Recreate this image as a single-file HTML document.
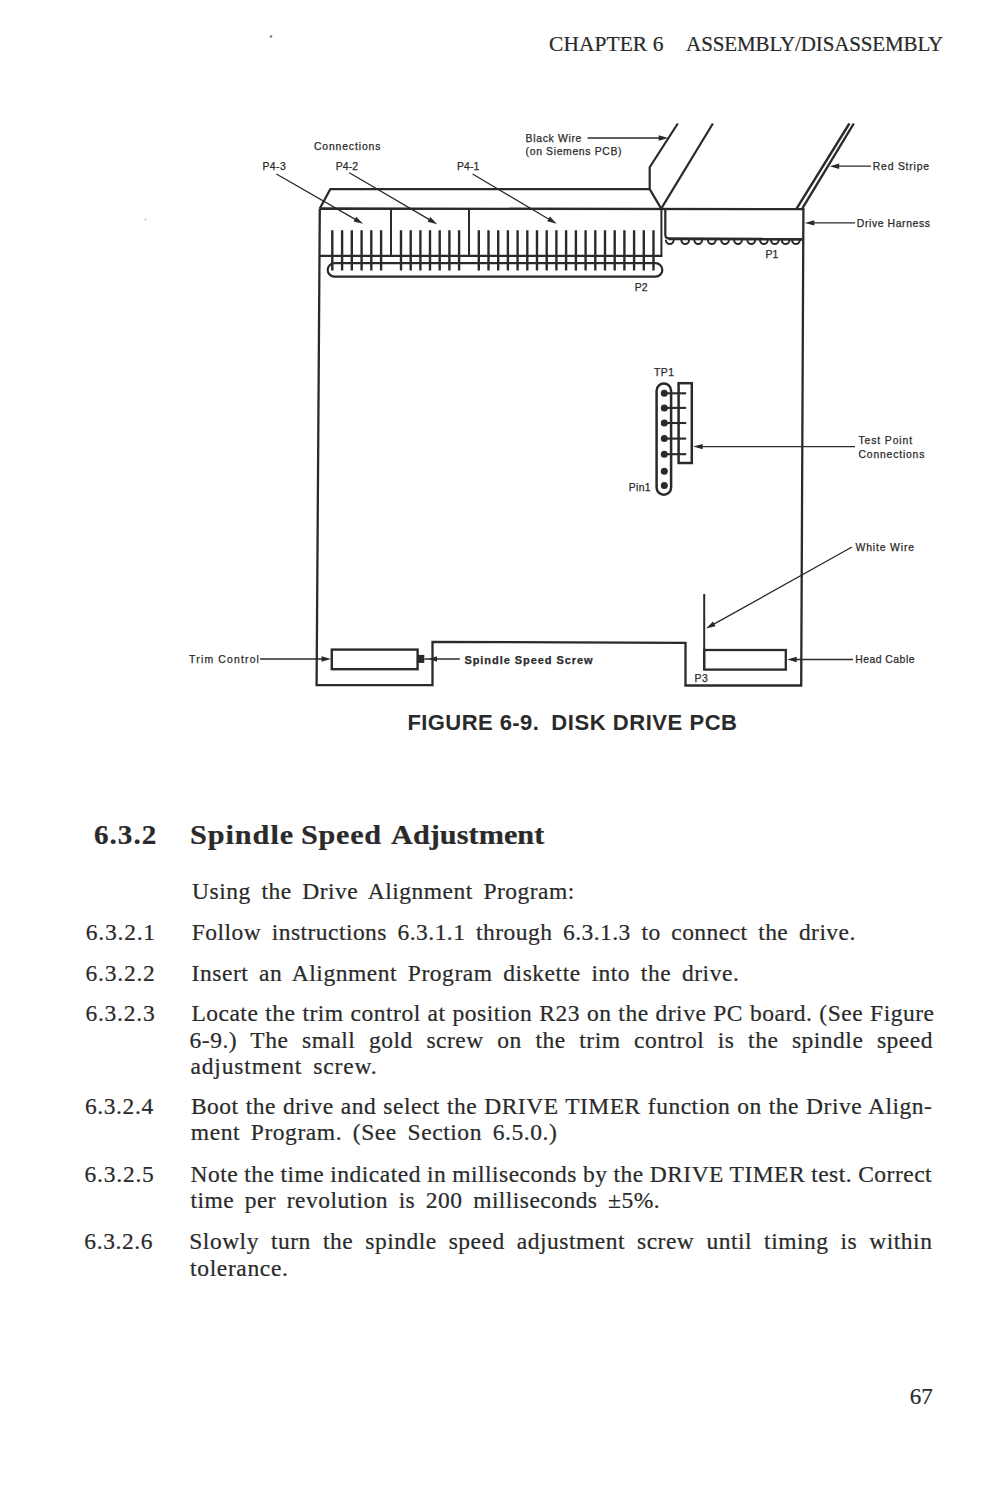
<!DOCTYPE html>
<html lang="en">
<head>
<meta charset="utf-8">
<title>Chapter 6 Assembly/Disassembly - page 67</title>
<style>
html,body{margin:0;padding:0;background:#fff;}
body{width:995px;height:1489px;position:relative;overflow:hidden;color:#2a2a2a;}
.t{position:absolute;white-space:pre;transform-origin:0 50%;color:#2a2a2a;}
.s{font-family:"Liberation Serif",serif;-webkit-text-stroke:0.22px #2a2a2a;}
.n{font-family:"Liberation Sans",sans-serif;}
.b{font-weight:bold;}
.l{-webkit-text-stroke:0.25px #2a2a2a;}
svg{position:absolute;left:0;top:0;}
</style>
</head>
<body>
<svg width="995" height="1489" viewBox="0 0 995 1489" fill="none" stroke="#2a2a2a">
<path d="M319.8,208.5 L316.6,685.1 L432.5,685.1 L432.5,641.8 L685.5,642.8 L685.5,685.5 L801.2,685.5 L803.4,209.2 L319.8,208.5" stroke-width="2.3" stroke-linejoin="miter"/>
<path d="M319.8,208.5 L330.3,189.2 L649.7,189.2 L661.2,208.6" stroke-width="2.2" />
<path d="M649.7,190 L649.7,167.2 L677.8,123.5" stroke-width="2.2" />
<path d="M661.2,208.6 L712.9,123.5" stroke-width="2.2" />
<line x1="319.3" y1="255.8" x2="662.2" y2="255.8" stroke-width="2.2"/>
<line x1="661.4" y1="208.5" x2="661.4" y2="256.9" stroke-width="2"/>
<line x1="391.0" y1="208.5" x2="391.0" y2="255.8" stroke-width="2"/>
<line x1="469.0" y1="208.5" x2="469.0" y2="255.8" stroke-width="2"/>
<path d="M332.3,230.3V270.5M342.1,230.3V270.5M351.8,230.3V270.5M361.6,230.3V270.5M371.3,230.3V270.5M381.1,230.3V270.5M401.0,230.3V270.5M410.7,230.3V270.5M420.4,230.3V270.5M430.0,230.3V270.5M439.7,230.3V270.5M449.4,230.3V270.5M459.1,230.3V270.5M478.8,230.3V270.5M488.5,230.3V270.5M498.2,230.3V270.5M507.9,230.3V270.5M517.6,230.3V270.5M527.3,230.3V270.5M537.0,230.3V270.5M546.7,230.3V270.5M556.4,230.3V270.5M566.1,230.3V270.5M575.9,230.3V270.5M585.6,230.3V270.5M595.3,230.3V270.5M605.0,230.3V270.5M614.7,230.3V270.5M624.4,230.3V270.5M634.1,230.3V270.5M643.8,230.3V270.5M653.5,230.3V270.5" stroke-width="2.4" />
<rect x="327.7" y="263.2" width="334.6" height="13.4" rx="6.7" ry="6.7" stroke-width="2.2"/>
<path d="M665.3,208.5 L665.3,234.5 Q665.3,238.6 669.5,238.6" stroke-width="2.2" />
<line x1="668.5" y1="238.8" x2="802.6" y2="239.3" stroke-width="2.9"/>
<path d="M665.9,239.8 a3.9,4.3 0 0 0 7.8,0M681.3,239.8 a3.9,4.3 0 0 0 7.8,0M694.3,239.8 a3.9,4.3 0 0 0 7.8,0M707.9,239.8 a3.9,4.3 0 0 0 7.8,0M721.1,239.8 a3.9,4.3 0 0 0 7.8,0M734.1,239.8 a3.9,4.3 0 0 0 7.8,0M747.4,239.8 a3.9,4.3 0 0 0 7.8,0M760.0,239.8 a3.9,4.3 0 0 0 7.8,0M770.9,239.8 a3.9,4.3 0 0 0 7.8,0M781.7,239.8 a3.9,4.3 0 0 0 7.8,0M792.0,239.8 a3.9,4.3 0 0 0 7.8,0" stroke-width="2" />
<line x1="796.6" y1="208.6" x2="849.4" y2="123.5" stroke-width="2.4"/>
<line x1="802.5" y1="208.2" x2="853.8" y2="123.5" stroke-width="2.4"/>
<rect x="656.6" y="383.4" width="14.5" height="111.4" rx="7.25" ry="7.25" stroke-width="2.5"/>
<rect x="678.6" y="383.2" width="13.2" height="79.8" stroke-width="2.5"/>
<circle cx="664.3" cy="393.3" r="3.5" fill="#2a2a2a" stroke="none"/>
<circle cx="664.3" cy="407.9" r="3.5" fill="#2a2a2a" stroke="none"/>
<circle cx="664.3" cy="423.0" r="3.5" fill="#2a2a2a" stroke="none"/>
<circle cx="664.3" cy="438.6" r="3.5" fill="#2a2a2a" stroke="none"/>
<circle cx="664.3" cy="454.2" r="3.5" fill="#2a2a2a" stroke="none"/>
<circle cx="664.3" cy="471.3" r="3.5" fill="#2a2a2a" stroke="none"/>
<circle cx="664.3" cy="485.4" r="3.5" fill="#2a2a2a" stroke="none"/>
<line x1="664.3" y1="393.3" x2="686.2" y2="393.3" stroke-width="2.1"/>
<line x1="664.3" y1="407.9" x2="686.2" y2="407.9" stroke-width="2.1"/>
<line x1="664.3" y1="423.0" x2="686.2" y2="423.0" stroke-width="2.1"/>
<line x1="664.3" y1="438.6" x2="686.2" y2="438.6" stroke-width="2.1"/>
<line x1="664.3" y1="454.2" x2="686.2" y2="454.2" stroke-width="2.1"/>
<line x1="704.2" y1="594.0" x2="704.2" y2="669.0" stroke-width="2"/>
<rect x="704.2" y="650.0" width="81.6" height="19.6" stroke-width="2.3"/>
<rect x="331.8" y="649.6" width="85.8" height="19.6" stroke-width="2.4"/>
<rect x="418" y="654.9" width="6.3" height="8" fill="#2a2a2a" stroke="none"/>
<circle cx="271" cy="36.5" r="1.3" fill="#777" stroke="none"/>
<circle cx="145.5" cy="219.5" r="0.9" fill="#bbb" stroke="none"/>
<line x1="276.4" y1="174.0" x2="356.6" y2="220.1" stroke-width="1.3"/>
<polygon points="363.1,223.8 353.5,221.4 356.2,216.7" fill="#2a2a2a" stroke="none"/>
<line x1="349.3" y1="172.8" x2="430.7" y2="220.4" stroke-width="1.3"/>
<polygon points="437.2,224.2 427.6,221.7 430.4,217.1" fill="#2a2a2a" stroke="none"/>
<line x1="472.6" y1="174.0" x2="550.2" y2="220.0" stroke-width="1.3"/>
<polygon points="556.7,223.8 547.1,221.3 549.9,216.6" fill="#2a2a2a" stroke="none"/>
<line x1="587.6" y1="138.0" x2="660.7" y2="138.0" stroke-width="1.3"/>
<polygon points="668.2,138.0 658.7,140.7 658.7,135.3" fill="#2a2a2a" stroke="none"/>
<line x1="871.0" y1="166.2" x2="837.2" y2="166.2" stroke-width="1.3"/>
<polygon points="829.7,166.2 839.2,163.5 839.2,168.9" fill="#2a2a2a" stroke="none"/>
<line x1="855.0" y1="222.9" x2="812.3" y2="222.9" stroke-width="1.3"/>
<polygon points="804.8,222.9 814.3,220.2 814.3,225.6" fill="#2a2a2a" stroke="none"/>
<line x1="855.0" y1="446.6" x2="700.7" y2="446.6" stroke-width="1.3"/>
<polygon points="693.2,446.6 702.7,443.9 702.7,449.3" fill="#2a2a2a" stroke="none"/>
<line x1="852.0" y1="547.0" x2="712.5" y2="624.9" stroke-width="1.3"/>
<polygon points="706.0,628.6 713.0,621.6 715.6,626.3" fill="#2a2a2a" stroke="none"/>
<line x1="853.0" y1="659.5" x2="794.7" y2="659.5" stroke-width="1.3"/>
<polygon points="787.2,659.5 796.7,656.8 796.7,662.2" fill="#2a2a2a" stroke="none"/>
<line x1="260.0" y1="659.0" x2="323.5" y2="659.0" stroke-width="1.3"/>
<polygon points="331.0,659.0 321.5,661.7 321.5,656.3" fill="#2a2a2a" stroke="none"/>
<line x1="424.5" y1="659.0" x2="459.8" y2="659.0" stroke-width="1.3"/>
<polygon points="428.5,659 437,656.2 437,661.8" fill="#2a2a2a" stroke="none"/>
</svg>
<div class="t s" style="left:549.3px;top:33.9px;font-size:21px;line-height:21px;letter-spacing:0.092px;transform:scaleX(1.02);">CHAPTER 6</div>
<div class="t s" style="left:686.1px;top:33.9px;font-size:21px;line-height:21px;letter-spacing:-0.124px;">ASSEMBLY/DISASSEMBLY</div>
<div class="t s b" style="left:94.0px;top:820.5px;font-size:28px;line-height:28px;letter-spacing:0.962px;transform:scaleX(1.04);">6.3.2</div>
<div class="t s b" style="left:189.8px;top:820.5px;font-size:28px;line-height:28px;letter-spacing:0.871px;transform:scaleX(1.08);">Spindle</div>
<div class="t s b" style="left:301.3px;top:820.5px;font-size:28px;line-height:28px;letter-spacing:0.653px;transform:scaleX(1.08);">Speed</div>
<div class="t s b" style="left:391.4px;top:820.5px;font-size:28px;line-height:28px;letter-spacing:0.040px;transform:scaleX(1.08);">Adjustment</div>
<div class="t s" style="left:192.1px;top:879.6px;font-size:23.5px;line-height:23.5px;letter-spacing:0.500px;word-spacing:4.300px;">Using the Drive Alignment Program:</div>
<div class="t s" style="left:85.8px;top:920.5px;font-size:23.5px;line-height:23.5px;letter-spacing:0.771px;">6.3.2.1</div>
<div class="t s" style="left:191.8px;top:920.5px;font-size:23.5px;line-height:23.5px;letter-spacing:0.458px;word-spacing:4.300px;">Follow instructions 6.3.1.1 through 6.3.1.3 to connect the drive.</div>
<div class="t s" style="left:85.6px;top:961.7px;font-size:23.5px;line-height:23.5px;letter-spacing:0.771px;">6.3.2.2</div>
<div class="t s" style="left:191.6px;top:961.7px;font-size:23.5px;line-height:23.5px;letter-spacing:0.541px;word-spacing:4.300px;">Insert an Alignment Program diskette into the drive.</div>
<div class="t s" style="left:85.4px;top:1002.4px;font-size:23.5px;line-height:23.5px;letter-spacing:0.771px;">6.3.2.3</div>
<div class="t s" style="left:191.4px;top:1002.4px;font-size:23.5px;line-height:23.5px;letter-spacing:0.500px;word-spacing:0.593px;">Locate the trim control at position R23 on the drive PC board. (See Figure</div>
<div class="t s" style="left:189.6px;top:1029.2px;font-size:23.5px;line-height:23.5px;letter-spacing:0.500px;word-spacing:7.252px;">6-9.) The small gold screw on the trim control is the spindle speed</div>
<div class="t s" style="left:190.4px;top:1055.0px;font-size:23.5px;line-height:23.5px;letter-spacing:0.862px;word-spacing:4.300px;">adjustment screw.</div>
<div class="t s" style="left:84.9px;top:1094.7px;font-size:23.5px;line-height:23.5px;letter-spacing:0.604px;">6.3.2.4</div>
<div class="t s" style="left:190.9px;top:1094.7px;font-size:23.5px;line-height:23.5px;letter-spacing:0.500px;word-spacing:0.706px;">Boot the drive and select the DRIVE TIMER function on the Drive Align-</div>
<div class="t s" style="left:190.8px;top:1121.3px;font-size:23.5px;line-height:23.5px;letter-spacing:0.563px;word-spacing:4.300px;">ment Program. (See Section 6.5.0.)</div>
<div class="t s" style="left:84.6px;top:1162.7px;font-size:23.5px;line-height:23.5px;letter-spacing:0.771px;">6.3.2.5</div>
<div class="t s" style="left:190.6px;top:1162.7px;font-size:23.5px;line-height:23.5px;letter-spacing:0.500px;word-spacing:-0.376px;">Note the time indicated in milliseconds by the DRIVE TIMER test. Correct</div>
<div class="t s" style="left:190.5px;top:1189.2px;font-size:23.5px;line-height:23.5px;letter-spacing:0.462px;word-spacing:4.300px;">time per revolution is 200 milliseconds ±5%.</div>
<div class="t s" style="left:84.3px;top:1230.2px;font-size:23.5px;line-height:23.5px;letter-spacing:0.604px;">6.3.2.6</div>
<div class="t s" style="left:189.3px;top:1230.2px;font-size:23.5px;line-height:23.5px;letter-spacing:0.500px;word-spacing:5.718px;">Slowly turn the spindle speed adjustment screw until timing is within</div>
<div class="t s" style="left:190.1px;top:1256.9px;font-size:23.5px;line-height:23.5px;letter-spacing:0.642px;">tolerance.</div>
<div class="t s" style="left:909.8px;top:1384.7px;font-size:23px;line-height:23px;">67</div>
<div class="t n b" style="left:407.4px;top:711.7px;font-size:22px;line-height:22px;letter-spacing:0.438px;">FIGURE 6-9.</div>
<div class="t n b" style="left:551.3px;top:711.7px;font-size:22px;line-height:22px;letter-spacing:0.555px;">DISK DRIVE PCB</div>
<div class="t n l" style="left:313.9px;top:141.6px;font-size:10.4px;line-height:10.4px;letter-spacing:0.873px;">Connections</div>
<div class="t n l" style="left:262.4px;top:162.3px;font-size:10.4px;line-height:10.4px;letter-spacing:0.444px;">P4-3</div>
<div class="t n l" style="left:335.8px;top:162.3px;font-size:10.4px;line-height:10.4px;letter-spacing:0.110px;">P4-2</div>
<div class="t n l" style="left:457.1px;top:162.3px;font-size:10.4px;line-height:10.4px;letter-spacing:0.044px;">P4-1</div>
<div class="t n l" style="left:525.6px;top:133.9px;font-size:10.4px;line-height:10.4px;letter-spacing:0.681px;">Black Wire</div>
<div class="t n l" style="left:525.6px;top:146.7px;font-size:10.4px;line-height:10.4px;letter-spacing:0.655px;">(on Siemens PCB)</div>
<div class="t n l" style="left:872.8px;top:161.6px;font-size:10.4px;line-height:10.4px;letter-spacing:0.787px;">Red Stripe</div>
<div class="t n l" style="left:856.8px;top:218.5px;font-size:10.4px;line-height:10.4px;letter-spacing:0.606px;">Drive Harness</div>
<div class="t n l" style="left:765.5px;top:250.0px;font-size:10.4px;line-height:10.4px;">P1</div>
<div class="t n l" style="left:634.8px;top:282.7px;font-size:10.4px;line-height:10.4px;">P2</div>
<div class="t n l" style="left:654.1px;top:367.6px;font-size:10.4px;line-height:10.4px;letter-spacing:0.411px;">TP1</div>
<div class="t n l" style="left:628.8px;top:483.0px;font-size:10.4px;line-height:10.4px;letter-spacing:0.327px;">Pin1</div>
<div class="t n l" style="left:858.5px;top:436.2px;font-size:10.4px;line-height:10.4px;letter-spacing:0.885px;">Test Point</div>
<div class="t n l" style="left:858.5px;top:449.6px;font-size:10.4px;line-height:10.4px;letter-spacing:0.813px;">Connections</div>
<div class="t n l" style="left:855.6px;top:542.7px;font-size:10.4px;line-height:10.4px;letter-spacing:0.842px;">White Wire</div>
<div class="t n l" style="left:855.2px;top:655.0px;font-size:10.4px;line-height:10.4px;letter-spacing:0.489px;">Head Cable</div>
<div class="t n l" style="left:189.1px;top:655.4px;font-size:10.4px;line-height:10.4px;letter-spacing:1.186px;">Trim Control</div>
<div class="t n b l" style="left:464.4px;top:654.9px;font-size:11px;line-height:11px;letter-spacing:0.944px;">Spindle Speed Screw</div>
<div class="t n l" style="left:694.6px;top:673.7px;font-size:10.4px;line-height:10.4px;letter-spacing:0.470px;">P3</div>
</body>
</html>
